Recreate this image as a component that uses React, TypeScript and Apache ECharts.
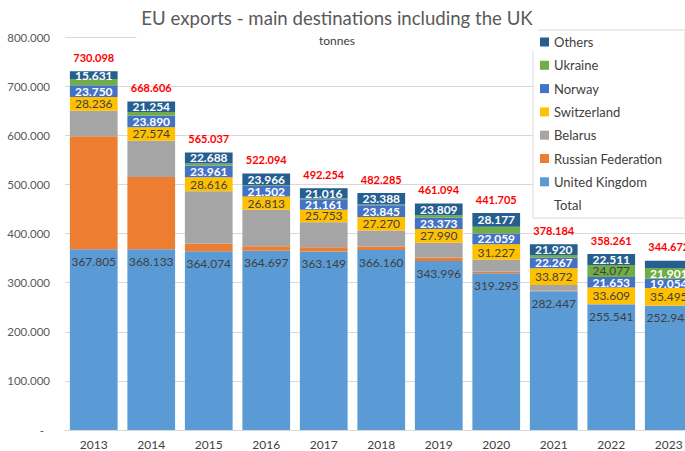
import React, { useEffect, useRef } from "react";
import * as echarts from "echarts";

const years = ["2013", "2014", "2015", "2016", "2017", "2018", "2019", "2020", "2021", "2022", "2023"];
const unitedKingdom = [367805, 368133, 364074, 364697, 363149, 366160, 343996, 319295, 282447, 255541, 252943];
const russianFederation = [230000, 147000, 15000, 9500, 9000, 7000, 7000, 3500, 1200, 500, 300];
const belarus = [52000, 73800, 106698, 74116, 50675, 33122, 29926, 23847, 11500, 370, 200];
const switzerland = [28236, 27574, 28616, 26813, 25753, 27270, 27990, 31227, 33872, 33609, 35495];
const norway = [23750, 23890, 23961, 21502, 21161, 23845, 23373, 22059, 22267, 21653, 19054];
const ukraine = [12676, 6955, 4000, 1500, 1500, 1500, 5000, 13600, 4978, 24077, 21901];
const others = [15631, 21254, 22688, 23966, 21016, 23388, 23809, 28177, 21920, 22511, 14779];
const totals = [730098, 668606, 565037, 522094, 492254, 482285, 461094, 441705, 378184, 358261, 344672];
const yTicks = [0, 100000, 200000, 300000, 400000, 500000, 600000, 700000, 800000];

const FONT = 'Lato, "Noto Sans", sans-serif';

const fmt = (v: number) => String(Math.round(v)).replace(/\B(?=(\d{3})+(?!\d))/g, ".");

const COLORS: Record<string, string> = {
  Others: "#255e91",
  Ukraine: "#70ad47",
  Norway: "#4472c4",
  Switzerland: "#ffc000",
  Belarus: "#a5a5a5",
  "Russian Federation": "#ed7d31",
  "United Kingdom": "#5b9bd5",
  Total: "rgba(0,0,0,0)",
};

export default function App() {
  const ref = useRef<HTMLDivElement>(null);
  useEffect(() => {
    if (!ref.current) return;
    const chart = echarts.init(ref.current, null, { renderer: "svg" });
    const segLabel = (color: string, show = true) => ({
      show,
      position: "inside" as const,
      color,
      fontFamily: FONT,
      fontSize: 12,
      fontWeight: "bold" as const,
      formatter: (p: any) => fmt(p.value),
    });
    chart.setOption({
      animation: false,
      textStyle: { fontFamily: FONT },
      title: {
        text: "EU exports - main destinations including the UK",
        subtext: "tonnes",
        left: 332,
        textAlign: "center",
        top: 3,
        padding: [5, 5, 5, 5],
        itemGap: 7,
        backgroundColor: "#ffffff",
        textStyle: { fontFamily: FONT, fontSize: 18.6, fontWeight: "normal", color: "#595959" },
        subtextStyle: { fontFamily: FONT, fontSize: 12, color: "#404040" },
      },
      legend: {
        orient: "vertical",
        left: 533,
        top: 30,
        padding: [5, 23, 6, 7],
        itemGap: 9.3,
        itemWidth: 9,
        itemHeight: 9,
        backgroundColor: "#ffffff",
        borderColor: "#d9d9d9",
        borderWidth: 1,
        textStyle: { fontFamily: FONT, fontSize: 13, color: "#404040", lineHeight: 14 },
        data: Object.keys(COLORS).map((name) => ({ name, icon: "rect", itemStyle: { color: COLORS[name] } })),
      },
      grid: { left: 65, width: 632.5, top: 37, bottom: 21, containLabel: false, outerBoundsMode: "none" },
      xAxis: {
        type: "category",
        data: years,
        axisLine: { lineStyle: { color: "#d9d9d9" } },
        axisTick: { show: false },
        axisLabel: { color: "#404040", fontSize: 12, margin: 8, fontFamily: FONT },
      },
      yAxis: {
        type: "value",
        min: yTicks[0],
        max: yTicks[yTicks.length - 1],
        interval: yTicks[1] - yTicks[0],
        axisLine: { show: false },
        axisTick: { show: false },
        splitLine: { lineStyle: { color: "#d9d9d9" } },
        axisLabel: {
          color: "#595959",
          fontSize: 11.5,
          margin: 15,
          fontFamily: FONT,
          formatter: (v: number) => (v === 0 ? "-  " : fmt(v)),
        },
      },
      series: [
        {
          name: "United Kingdom",
          type: "bar",
          stack: "s",
          barCategoryGap: "17%",
          data: unitedKingdom,
          itemStyle: { color: COLORS["United Kingdom"] },
          label: {
            show: true,
            position: "insideTop",
            distance: 6,
            color: "#404040",
            fontFamily: FONT,
            fontSize: 12,
            formatter: (p: any) => fmt(p.value),
          },
        },
        { name: "Russian Federation", type: "bar", stack: "s", data: russianFederation, itemStyle: { color: COLORS["Russian Federation"] } },
        { name: "Belarus", type: "bar", stack: "s", data: belarus, itemStyle: { color: COLORS.Belarus } },
        {
          name: "Switzerland",
          type: "bar",
          stack: "s",
          data: switzerland,
          itemStyle: { color: COLORS.Switzerland },
          label: { ...segLabel("#404040"), fontWeight: "normal" },
        },
        { name: "Norway", type: "bar", stack: "s", data: norway, itemStyle: { color: COLORS.Norway }, label: segLabel("#ffffff") },
        {
          name: "Ukraine",
          type: "bar",
          stack: "s",
          data: ukraine.map((v, i) => ({
            value: v,
            label: {
              show: v > 20000,
              color: i === ukraine.length - 1 ? "#ffffff" : "#404040",
              fontWeight: i === ukraine.length - 1 ? "bold" : "normal",
            },
          })),
          itemStyle: { color: COLORS.Ukraine },
          label: segLabel("#404040", false),
        },
        {
          name: "Others",
          type: "bar",
          stack: "s",
          data: others.map((v, i) => ({ value: v, label: { show: i < others.length - 1 } })),
          itemStyle: { color: COLORS.Others },
          label: segLabel("#ffffff"),
        },
        {
          name: "Total",
          type: "line",
          data: totals,
          symbol: "circle",
          symbolSize: 1,
          lineStyle: { opacity: 0 },
          itemStyle: { color: COLORS.Total },
          label: {
            show: true,
            position: "top",
            distance: 8,
            color: "#ff0000",
            fontFamily: FONT,
            fontSize: 11,
            fontWeight: "bold",
            formatter: (p: any) => fmt(p.value),
          },
        },
      ],
    });
    return () => chart.dispose();
  }, []);
  return <div ref={ref} style={{ position: "fixed", left: 0, top: 0, width: 685, height: 451, background: "#fff" }} />;
}
